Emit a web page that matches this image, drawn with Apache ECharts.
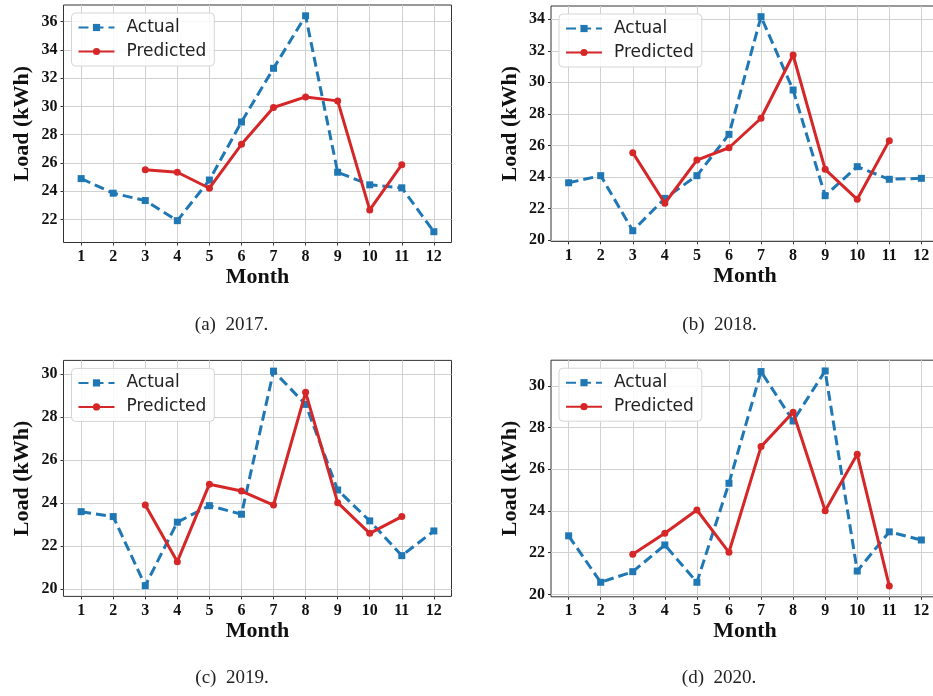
<!DOCTYPE html>
<html><head><meta charset="utf-8">
<script src="https://cdn.jsdelivr.net/npm/echarts@6/dist/echarts.min.js"></script>
<style>html,body{margin:0;padding:0;background:#fff;width:933px;height:696px;overflow:hidden}#c{width:950px;height:696px}</style>
</head><body><div id="c"></div>
<script>
// ---- data ----
const months = [1, 2, 3, 4, 5, 6, 7, 8, 9, 10, 11, 12];
const predMonths = [3, 4, 5, 6, 7, 8, 9, 10, 11];

const actual2017 = [24.9, 23.87, 23.35, 21.93, 24.8, 28.9, 32.69, 36.4, 25.35, 24.46, 24.25, 21.15];
const pred2017   = [25.52, 25.35, 24.22, 27.32, 29.92, 30.67, 30.39, 22.69, 25.88];

const actual2018 = [23.63, 24.08, 20.59, 22.64, 24.08, 26.7, 34.16, 29.51, 22.81, 24.65, 23.85, 23.91];
const pred2018   = [25.54, 22.33, 25.07, 25.85, 27.72, 31.73, 24.48, 22.58, 26.3];

const actual2019 = [23.6, 23.37, 20.15, 23.11, 23.88, 23.48, 30.15, 28.6, 24.61, 23.17, 21.55, 22.7];
const pred2019   = [23.91, 21.27, 24.88, 24.56, 23.91, 29.16, 24.02, 22.59, 23.37];

const actual2020 = [22.81, 20.58, 21.09, 22.37, 20.58, 25.33, 30.69, 28.32, 30.72, 21.12, 23.0, 22.61];
const pred2020   = [21.93, 22.93, 24.05, 22.02, 27.09, 28.74, 24.01, 26.72, 20.4];

const yTicks2017 = [22, 24, 26, 28, 30, 32, 34, 36];
const yTicks2018 = [20, 22, 24, 26, 28, 30, 32, 34];
const yTicks2019 = [20, 22, 24, 26, 28, 30];
const yTicks2020 = [20, 22, 24, 26, 28, 30];

const captions = ['(a)  2017.', '(b)  2018.', '(c)  2019.', '(d)  2020.'];
const seriesNames = ['Actual', 'Predicted'];
const xName = 'Month';
const yName = 'Load (kWh)';

// ---- layout ----
const panels = [
  { actual: actual2017, pred: pred2017, ticks: yTicks2017, grid: { left: 63.5, top: 5, width: 388, height: 237.5 }, cap: [231.5, 325] },
  { actual: actual2018, pred: pred2018, ticks: yTicks2018, grid: { left: 551, top: 6, width: 388, height: 235.4 }, cap: [719.5, 325] },
  { actual: actual2019, pred: pred2019, ticks: yTicks2019, grid: { left: 63.5, top: 360.4, width: 388, height: 236 }, cap: [232, 678] },
  { actual: actual2020, pred: pred2020, ticks: yTicks2020, grid: { left: 551, top: 360.2, width: 388, height: 236.6 }, cap: [719, 678] }
];

const BLUE = '#1f77b4', RED = '#d62728';
const serif = 'Liberation Serif, Times New Roman, serif';

const option = { animation: false, backgroundColor: '#fff', grid: [], xAxis: [], yAxis: [], series: [], legend: [], graphic: [] };

panels.forEach((p, i) => {
  const all = p.actual.concat(p.pred);
  const lo = Math.min(...all), hi = Math.max(...all), pad = (hi - lo) * 0.05;
  option.grid.push(Object.assign({ show: true, borderColor: '#333', borderWidth: 1, backgroundColor: 'transparent' }, p.grid));
  option.xAxis.push({
    type: 'value', gridIndex: i, min: 0.45, max: 12.55,
    name: xName, nameLocation: 'middle', nameGap: 24,
    nameTextStyle: { fontFamily: serif, fontWeight: 'bold', fontSize: 22, color: '#111' },
    axisLine: { show: false },
    axisTick: { show: true, inside: false, length: 3, customValues: months, lineStyle: { color: '#333' } },
    axisLabel: { customValues: months, margin: 6, fontFamily: serif, fontWeight: 'bold', fontSize: 16, color: '#111' },
    splitLine: { show: true, lineStyle: { color: '#d0d0d0', width: 1 } }
  });
  option.yAxis.push({
    type: 'value', gridIndex: i, min: lo - pad, max: hi + pad,
    name: yName, nameLocation: 'middle', nameGap: 30, nameRotate: 90,
    nameTextStyle: { fontFamily: serif, fontWeight: 'bold', fontSize: 22, color: '#111' },
    axisLine: { show: false },
    axisTick: { show: true, inside: false, length: 3, customValues: p.ticks, lineStyle: { color: '#333' } },
    axisLabel: { customValues: p.ticks, margin: 6, fontFamily: serif, fontWeight: 'bold', fontSize: 16, color: '#111' },
    splitLine: { show: true, lineStyle: { color: '#d0d0d0', width: 1 } }
  });
  option.series.push({
    name: seriesNames[0], type: 'line', xAxisIndex: i, yAxisIndex: i, z: 3,
    data: months.map((m, k) => [m, p.actual[k]]),
    symbol: 'rect', symbolSize: 7, showAllSymbol: true,
    lineStyle: { color: BLUE, width: 3, type: [10, 5] },
    itemStyle: { color: BLUE }
  });
  option.series.push({
    name: seriesNames[1], type: 'line', xAxisIndex: i, yAxisIndex: i, z: 4,
    data: predMonths.map((m, k) => [m, p.pred[k]]),
    symbol: 'circle', symbolSize: 7, showAllSymbol: true,
    lineStyle: { color: RED, width: 3, type: 'solid' },
    itemStyle: { color: RED }
  });
  option.legend.push({
    data: seriesNames, orient: 'vertical',
    left: p.grid.left + 8, top: p.grid.top + 8,
    backgroundColor: 'rgba(255,255,255,0.85)', borderColor: '#d5d5d5', borderWidth: 1, borderRadius: 4,
    padding: [6, 8, 6, 6], itemGap: 7, itemWidth: 36, itemHeight: 9,
    textStyle: { fontFamily: 'DejaVu Sans', fontSize: 17, color: '#222', padding: [0, 0, 0, 7] }
  });
  option.graphic.push({
    type: 'text', x: p.cap[0], y: p.cap[1],
    style: { text: captions[i], fontFamily: serif, fontSize: 19, fill: '#222', textAlign: 'center', textVerticalAlign: 'middle' }
  });
});

const chart = echarts.init(document.getElementById('c'), null, { renderer: 'canvas' });
chart.setOption(option);
</script>
</body></html>
